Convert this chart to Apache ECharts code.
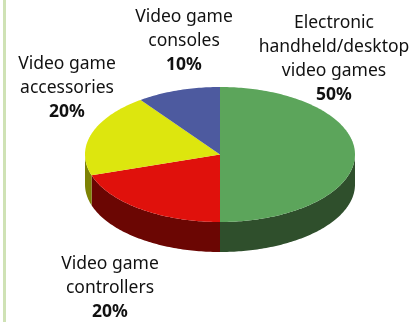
<!DOCTYPE html>
<html>
<head>
<meta charset="utf-8">
<style>html,body{margin:0;padding:0;background:#fff}#chart{width:420px;height:322px}</style>
<script src="https://cdn.jsdelivr.net/npm/echarts@6/dist/echarts.min.js"></script>
</head>
<body>
<div id="chart"></div>
<script>
// Toy market shares, clockwise from twelve o'clock
var categories = ['Electronic\nhandheld/desktop\nvideo games', 'Video game\ncontrollers', 'Video game\naccessories', 'Video game\nconsoles'];
var shares = [50, 20, 20, 10];
var topColors = ['#5ca55b', '#e0110c', '#dde60e', '#4d5a9f'];
var wallColors = ['#2f4f2c', '#6b0603', '#7d8204', '#2a3260'];

// Disc geometry in pixels
var disc = { cx: 220, cy: 154.5, rx: 135, ry: 67.5, depth: 30 };
// Centre-top anchor of every label block
var labelAnchors = [[334, 11], [110, 252], [67, 52], [184, 5]];

var total = shares.reduce(function (a, b) { return a + b; }, 0);

function rimPoint(turn, dy) {
  var a = turn * 2 * Math.PI;
  return [disc.cx + disc.rx * Math.sin(a), disc.cy - disc.ry * Math.cos(a) + (dy || 0)];
}

// Polygon for the top face of a slice
function topFace(from, to) {
  var pts = [[disc.cx, disc.cy]];
  var n = Math.max(2, Math.ceil((to - from) * 360));
  for (var i = 0; i <= n; i++) pts.push(rimPoint(from + (to - from) * i / n));
  return pts;
}

// Polygon for the part of a slice's outer wall facing the viewer
function wallFace(from, to) {
  var a = Math.max(from, 0.25), b = Math.min(to, 0.75);
  if (b <= a) return null;
  var n = Math.max(2, Math.ceil((b - a) * 360));
  var pts = [];
  for (var i = 0; i <= n; i++) pts.push(rimPoint(a + (b - a) * i / n));
  for (var j = n; j >= 0; j--) pts.push(rimPoint(a + (b - a) * j / n, disc.depth));
  return pts;
}

function renderSlice(params, api) {
  var i = params.dataIndex, before = 0;
  for (var k = 0; k < i; k++) before += shares[k];
  var from = before / total, to = (before + api.value(0)) / total;
  var children = [];
  var wall = wallFace(from, to);
  if (wall) {
    children.push({ type: 'polygon', shape: { points: wall }, style: { fill: wallColors[i] }, z2: 1 });
  }
  children.push({ type: 'polygon', shape: { points: topFace(from, to) }, style: { fill: topColors[i] }, z2: 2 });
  children.push({
    type: 'text', z2: 3,
    style: {
      x: labelAnchors[i][0], y: labelAnchors[i][1], align: 'center', verticalAlign: 'top',
      text: '{n|' + categories[i].split('\n').join('}\n{n|') + '}\n{b|' + api.value(0) + '%}',
      rich: {
        n: { fontFamily: 'Noto Sans', fontSize: 17.5, lineHeight: 24, fill: '#111111' },
        b: { fontFamily: 'Noto Sans', fontSize: 17.5, fontWeight: 'bold', lineHeight: 24, fill: '#111111' }
      }
    }
  });
  return { type: 'group', children: children };
}

var chart = echarts.init(document.getElementById('chart'), null, { renderer: 'canvas' });
chart.setOption({
  animation: false,
  graphic: [{ type: 'rect', shape: { x: 3, y: 0, width: 3, height: 322 }, style: { fill: '#cfe2b5' }, silent: true }],
  xAxis: { show: false, type: 'value' },
  yAxis: { show: false, type: 'value' },
  grid: { left: 0, right: 0, top: 0, bottom: 0 },
  series: [{
    type: 'custom',
    coordinateSystem: 'none',
    data: shares.map(function (v) { return [v]; }),
    renderItem: renderSlice,
    silent: true
  }]
});
</script>
</body>
</html>
